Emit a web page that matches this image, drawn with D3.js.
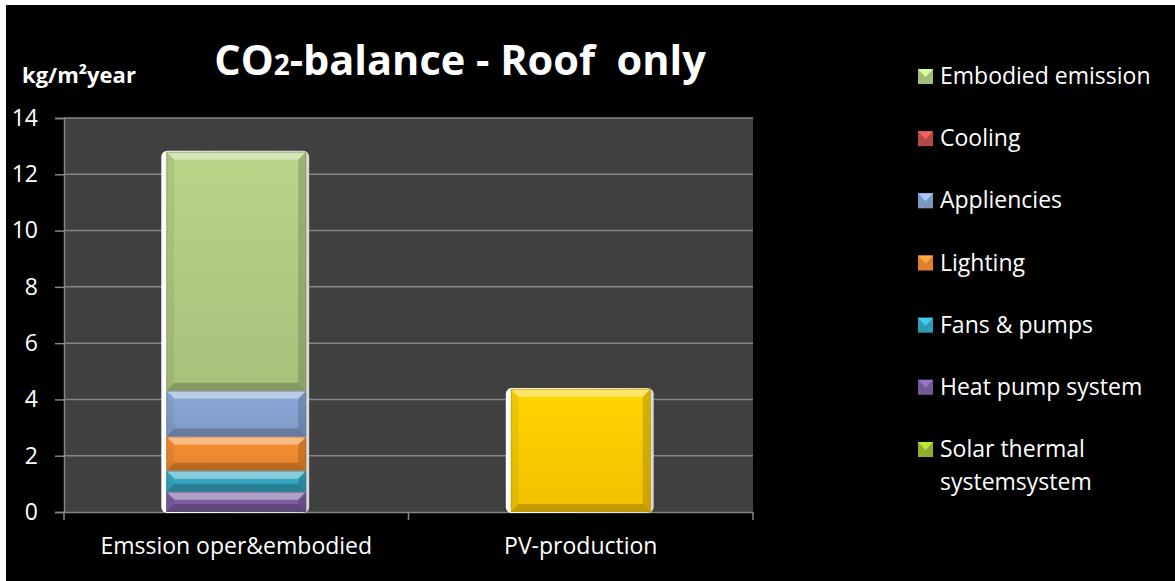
<!DOCTYPE html>
<html>
<head>
<meta charset="utf-8">
<script src="https://cdn.jsdelivr.net/npm/d3@7"></script>
<style>
  body { margin: 0; background: #fff; }
  svg { display: block; }
  text { font-family: "Open Sans", "Noto Sans", sans-serif; fill: #fff; }
</style>
</head>
<body>
<svg id="chart" width="1175" height="581"></svg>
<script>
// categories on the x axis
var categories = ['Emssion oper&embodied', 'PV-production'];

// stacked series, bottom to top (kg/m2year)
var seriesNames = ['Solar thermal systemsystem', 'Heat pump system', 'Fans & pumps',
  'Lighting', 'Appliencies', 'Cooling', 'Embodied emission', 'PV-production'];
var solarThermal = [0, 0];
var heatPump = [0.72, 0];
var fansPumps = [0.75, 0];
var lighting = [1.21, 0];
var appliencies = [1.63, 0];
var cooling = [0, 0];
var embodied = [8.49, 0];
var pvProduction = [0, 4.37];

var yTicks = [0, 2, 4, 6, 8, 10, 12, 14];

// legend entries (top to bottom), pv is left out like in the original
var legendNames = ['Embodied emission', 'Cooling', 'Appliencies', 'Lighting',
  'Fans & pumps', 'Heat pump system', 'Solar thermal systemsystem'];

var colors = {
  'Solar thermal systemsystem': '#9bbb2e',
  'Heat pump system': '#7a5ea0',
  'Fans & pumps': '#35a6c0',
  'Lighting': '#f08a30',
  'Appliencies': '#86a2d0',
  'Cooling': '#c0504d',
  'Embodied emission': '#b0cc82',
  'PV-production': '#ffcc00'
};

var values = [solarThermal, heatPump, fansPumps, lighting, appliencies, cooling, embodied, pvProduction];

// build rows for d3.stack
var rows = categories.map(function (c, i) {
  var r = { category: c };
  seriesNames.forEach(function (s, j) { r[s] = values[j][i]; });
  return r;
});
var stacked = d3.stack().keys(seriesNames)(rows);

var svg = d3.select('#chart');
var W = 1175, H = 581;

// black frame with thin white margin on top/left
svg.append('rect').attr('x', 6).attr('y', 5).attr('width', W - 6).attr('height', H - 5).attr('fill', '#000');

var plot = { left: 64, right: 753, top: 118, bottom: 512 };

var x = d3.scaleBand()
  .domain(categories)
  .range([plot.left, plot.right])
  .paddingInner(0.594)
  .paddingOuter(0.297);

var y = d3.scaleLinear()
  .domain([0, 14])
  .range([plot.bottom, plot.top]);

var defs = svg.append('defs');
Object.keys(colors).forEach(function (k, i) {
  var c = d3.color(colors[k]);
  var g = defs.append('linearGradient').attr('id', 'grad' + i)
    .attr('x1', 0).attr('y1', 0).attr('x2', 0).attr('y2', 1);
  g.append('stop').attr('offset', '0%').attr('stop-color', c.brighter(0.12));
  g.append('stop').attr('offset', '100%').attr('stop-color', c.darker(0.15));
});
var gradId = {};
Object.keys(colors).forEach(function (k, i) { gradId[k] = 'url(#grad' + i + ')'; });

var shine = defs.append('linearGradient').attr('id', 'shine')
  .attr('x1', 0).attr('y1', 0).attr('x2', 1).attr('y2', 0);
shine.append('stop').attr('offset', '0%').attr('stop-color', '#ffffff');
shine.append('stop').attr('offset', '100%').attr('stop-color', '#d8d8d8');

// plot background
svg.append('rect')
  .attr('x', plot.left).attr('y', plot.top)
  .attr('width', plot.right - plot.left).attr('height', plot.bottom - plot.top)
  .attr('fill', '#404040');

// gridlines
svg.append('g').selectAll('line')
  .data(yTicks.filter(function (d) { return d > 0; }))
  .enter().append('line')
  .attr('x1', plot.left).attr('x2', plot.right)
  .attr('y1', function (d) { return y(d); }).attr('y2', function (d) { return y(d); })
  .attr('stroke', '#858585').attr('stroke-width', 1.5);

// y axis
var yAxis = svg.append('g')
  .attr('transform', 'translate(' + plot.left + ',0)')
  .call(d3.axisLeft(y).tickValues(yTicks).tickSize(9).tickPadding(17));
yAxis.select('.domain').attr('stroke', '#868686').attr('stroke-width', 1.5);
yAxis.selectAll('.tick line').attr('stroke', '#868686').attr('stroke-width', 1.5);
yAxis.selectAll('.tick text')
  .attr('fill', '#fff').style('font-size', '23px').style('font-family', '"Open Sans", sans-serif');

// x axis
var xAxis = svg.append('g')
  .attr('transform', 'translate(0,' + plot.bottom + ')')
  .call(d3.axisBottom(x).tickSize(0).tickPadding(26));
xAxis.select('.domain').attr('stroke', '#868686').attr('stroke-width', 1.5);
xAxis.selectAll('.tick text')
  .attr('fill', '#fff').style('font-size', '23px').style('font-family', '"Open Sans", sans-serif');
// category boundary ticks
var bounds = [plot.left].concat(categories.map(function (c) { return x(c) + x.bandwidth() + x.step() * x.paddingInner() / 2; }));
bounds[bounds.length - 1] = plot.right;
svg.append('g').selectAll('line').data(bounds).enter().append('line')
  .attr('x1', function (d) { return d; }).attr('x2', function (d) { return d; })
  .attr('y1', plot.bottom).attr('y2', plot.bottom + 8)
  .attr('stroke', '#868686').attr('stroke-width', 1.5);

// white glow behind each bar
categories.forEach(function (c, i) {
  var top = d3.max(stacked, function (s) { return s[i][1]; });
  svg.append('rect')
    .attr('x', x(c) - 5).attr('y', y(top) - 1)
    .attr('width', x.bandwidth() + 8).attr('height', y(0) - y(top) + 2)
    .attr('rx', 6).attr('fill', 'url(#shine)');
});

// bevelled segments
var segs = svg.append('g');
stacked.forEach(function (s) {
  s.forEach(function (d, i) {
    var h = y(d[0]) - y(d[1]);
    if (h <= 0) return;
    var x0 = x(categories[i]), w = x.bandwidth(), y0 = y(d[1]);
    var b = Math.min(8, h / 2.5);
    var g = segs.append('g');
    g.append('rect').attr('x', x0).attr('y', y0).attr('width', w).attr('height', h)
      .attr('fill', gradId[s.key]);
    var poly = function (pts, fill, op) {
      g.append('polygon').attr('points', pts.map(function (p) { return p.join(','); }).join(' '))
        .attr('fill', fill).attr('opacity', op);
    };
    poly([[x0, y0], [x0 + w, y0], [x0 + w - b, y0 + b], [x0 + b, y0 + b]], '#fff', 0.4);
    poly([[x0, y0 + h], [x0 + w, y0 + h], [x0 + w - b, y0 + h - b], [x0 + b, y0 + h - b]], '#000', 0.2);
    poly([[x0, y0], [x0 + b, y0 + b], [x0 + b, y0 + h - b], [x0, y0 + h]], '#000', 0.06);
    poly([[x0 + w, y0], [x0 + w - b, y0 + b], [x0 + w - b, y0 + h - b], [x0 + w, y0 + h]], '#000', 0.16);
    g.append('rect').attr('x', x0 + 0.5).attr('y', y0 + 0.5).attr('width', w - 1).attr('height', h - 1)
      .attr('fill', 'none').attr('stroke', d3.color(colors[s.key]).darker(0.8)).attr('stroke-width', 1).attr('opacity', 0.6);
  });
});

// title
var title = svg.append('text')
  .attr('x', 460).attr('y', 75).attr('text-anchor', 'middle')
  .style('font-weight', 'bold').style('font-size', '41.5px').style('white-space', 'pre');
title.append('tspan').text('CO');
title.append('tspan').style('font-size', '28px').text('2');
title.append('tspan').text('-balance - Roof  only');

// unit label
svg.append('text').attr('x', 22).attr('y', 83)
  .style('font-weight', 'bold').style('font-size', '22px')
  .text('kg/m\u00b2year');

// legend
var legend = svg.append('g');
var rowY = d3.scalePoint().domain(legendNames).range([76, 449]);
legendNames.forEach(function (n) {
  var cy = rowY(n);
  var c = d3.color(colors[n]);
  var gl = legend.append('g');
  gl.append('rect').attr('x', 918).attr('y', cy - 7).attr('width', 15).attr('height', 15).attr('fill', c.darker(0.2));
  gl.append('polygon')
    .attr('points', [[918, cy - 7], [933, cy - 7], [925.5, cy + 1]].map(function (p) { return p.join(','); }).join(' '))
    .attr('fill', c.brighter(0.6));
  var t = gl.append('text').attr('x', 940).attr('y', cy + 8).style('font-size', '23px');
  if (n === 'Solar thermal systemsystem') {
    t.append('tspan').attr('x', 940).text('Solar thermal');
    t.append('tspan').attr('x', 940).attr('dy', 33).text('systemsystem');
  } else {
    t.text(n);
  }
});
</script>
</body>
</html>
